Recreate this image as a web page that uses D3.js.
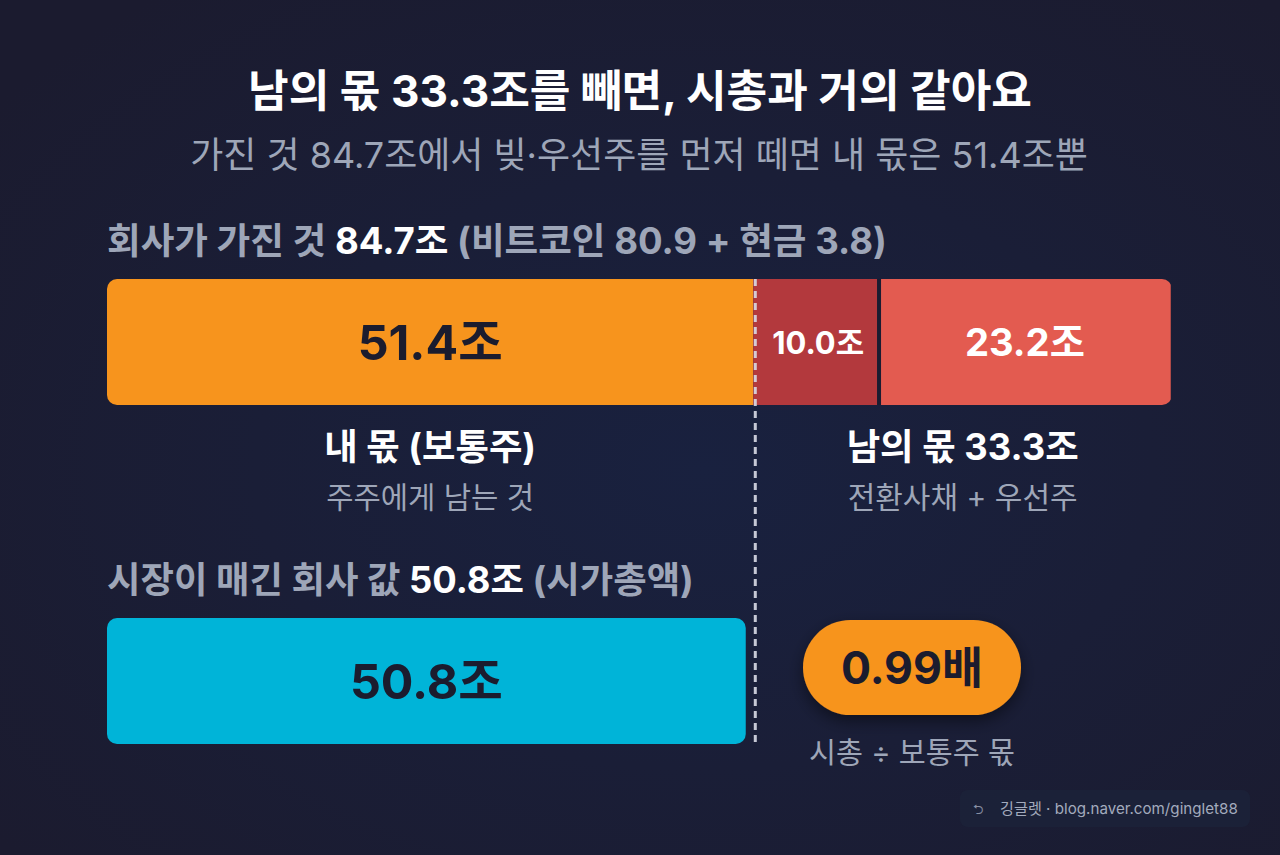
<!DOCTYPE html>
<html>
<head>
<meta charset="utf-8">
<script src="https://cdn.jsdelivr.net/npm/d3@7"></script>
<style>
  html, body { margin: 0; padding: 0; background: #1a1c31; }
  svg { display: block; font-family: Inter, "Noto Sans CJK KR", "Noto Sans", sans-serif; }
</style>
</head>
<body>
<svg id="chart" width="1280" height="855"></svg>
<script>
// values (조)
var parts = [
  { key: "common", value: 51.4, label: "51.4조", fill: "#f7941d", text: "#1b1c2e", tw: 145 },
  { key: "cb", value: 10.0, label: "10.0조", fill: "#b3393d", text: "#ffffff", tw: 92 },
  { key: "pref", value: 23.2, label: "23.2조", fill: "#e35b50", text: "#ffffff", tw: 120 }
];
var totalAssets = 84.7;
var marketCap = 50.8;
var ratio = "0.99배";

var title = "남의 몫 33.3조를 빼면, 시총과 거의 같아요";
var subtitle = "가진 것 84.7조에서 빚·우선주를 먼저 떼면 내 몫은 51.4조뿐";

var svg = d3.select("#chart");
var W = 1280, H = 855;

// fit a text element to a target width (reference font is wider than ours)
function fit(sel, w) {
  var n = sel.node(), len = n.getComputedTextLength();
  var fs = parseFloat(sel.attr("font-size"));
  sel.attr("font-size", fs * w / len);
  return sel;
}

// background glow
var defs = svg.append("defs");
var bg = defs.append("radialGradient").attr("id", "bg")
  .attr("cx", "55%").attr("cy", "55%").attr("r", "70%");
bg.append("stop").attr("offset", "0%").attr("stop-color", "#19213f");
bg.append("stop").attr("offset", "100%").attr("stop-color", "#1b1b2f");
var sh = defs.append("filter").attr("id", "shadow")
  .attr("x", "-30%").attr("y", "-40%").attr("width", "160%").attr("height", "190%");
sh.append("feDropShadow").attr("dx", 0).attr("dy", 6).attr("stdDeviation", 8)
  .attr("flood-color", "#000").attr("flood-opacity", 0.45);
defs.append("clipPath").attr("id", "clipTop")
  .append("rect").attr("x", 107).attr("y", 279).attr("width", 1065).attr("height", 126).attr("rx", 10);

svg.append("rect").attr("width", W).attr("height", H).attr("fill", "url(#bg)");

var x = d3.scaleLinear().domain([0, totalAssets]).range([107, 1172]);

// titles
fit(svg.append("text").attr("x", 640).attr("y", 107).attr("text-anchor", "middle")
  .attr("font-size", 40).attr("font-weight", 700).attr("fill", "#ffffff").text(title), 784);
fit(svg.append("text").attr("x", 639).attr("y", 168).attr("text-anchor", "middle")
  .attr("font-size", 32).attr("fill", "#9ea6b8").text(subtitle), 898);

// section label 1
var l1 = svg.append("text").attr("x", 107).attr("y", 254)
  .attr("font-size", 30).attr("font-weight", 700).attr("fill", "#9ea6b8");
l1.append("tspan").text("회사가 가진 것 ");
l1.append("tspan").attr("fill", "#ffffff").text("84.7조");
l1.append("tspan").text(" (비트코인 80.9 + 현금 3.8)");
fit(l1, 780);

// stacked bar
var stack = [];
var acc = 0;
parts.forEach(function (d) { stack.push({ d: d, x0: acc, x1: acc + d.value }); acc += d.value; });

var gTop = svg.append("g").attr("clip-path", "url(#clipTop)");
gTop.selectAll("rect").data(stack).enter().append("rect")
  .attr("x", function (s) { return x(s.x0); })
  .attr("width", function (s) { return x(s.x1) - x(s.x0); })
  .attr("y", 279).attr("height", 126)
  .attr("fill", function (s) { return s.d.fill; });
// separator between 10.0 and 23.2
gTop.append("rect").attr("x", x(stack[2].x0) - 2).attr("width", 4)
  .attr("y", 279).attr("height", 126).attr("fill", "#1a1c31");

svg.selectAll("text.seg").data(stack).enter().append("text").attr("class", "seg")
  .attr("x", function (s) { return (x(s.x0) + x(s.x1)) / 2 + (s.d.key === "cb" ? 2 : 0); })
  .attr("y", 343).attr("dy", "0.35em").attr("text-anchor", "middle")
  .attr("font-size", 40).attr("font-weight", 700)
  .attr("fill", function (s) { return s.d.text; })
  .text(function (s) { return s.d.label; })
  .each(function (s) { fit(d3.select(this), s.d.tw); });

// labels under bar
var cMine = (x(0) + x(parts[0].value)) / 2;
var cOther = (x(parts[0].value) + x(totalAssets)) / 2;
fit(svg.append("text").attr("x", cMine).attr("y", 460).attr("text-anchor", "middle")
  .attr("font-size", 33).attr("font-weight", 700).attr("fill", "#ffffff").text("내 몫 (보통주)"), 212);
fit(svg.append("text").attr("x", cMine).attr("y", 508).attr("text-anchor", "middle")
  .attr("font-size", 27).attr("fill", "#9ea6b8").text("주주에게 남는 것"), 208);
fit(svg.append("text").attr("x", cOther).attr("y", 460).attr("text-anchor", "middle")
  .attr("font-size", 33).attr("font-weight", 700).attr("fill", "#ffffff").text("남의 몫 33.3조"), 232);
fit(svg.append("text").attr("x", cOther).attr("y", 508).attr("text-anchor", "middle")
  .attr("font-size", 27).attr("fill", "#9ea6b8").text("전환사채 + 우선주"), 230);

// section label 2
var l2 = svg.append("text").attr("x", 107).attr("y", 593)
  .attr("font-size", 30).attr("font-weight", 700).attr("fill", "#9ea6b8");
l2.append("tspan").text("시장이 매긴 회사 값 ");
l2.append("tspan").attr("fill", "#ffffff").text("50.8조");
l2.append("tspan").text(" (시가총액)");
fit(l2, 587);

// market cap bar
svg.append("rect").attr("x", x(0)).attr("y", 618)
  .attr("width", x(marketCap) - x(0)).attr("height", 126).attr("rx", 10)
  .attr("fill", "#00b4d8");
fit(svg.append("text").attr("x", (x(0) + x(marketCap)) / 2).attr("y", 682).attr("dy", "0.35em")
  .attr("text-anchor", "middle").attr("font-size", 43).attr("font-weight", 700)
  .attr("fill", "#1b1c2e").text(marketCap + "조"), 153);

// dashed reference line at my share
svg.append("line").attr("x1", x(parts[0].value) + 2).attr("x2", x(parts[0].value) + 2)
  .attr("y1", 279).attr("y2", 745)
  .attr("stroke", "#d9dbe6").attr("stroke-width", 3).attr("stroke-dasharray", "7,5")
  .attr("opacity", 0.9);

// ratio pill
svg.append("rect").attr("x", 803).attr("y", 620).attr("width", 218).attr("height", 95)
  .attr("rx", 47.5).attr("fill", "#f7941d").attr("filter", "url(#shadow)");
fit(svg.append("text").attr("x", 912).attr("y", 668).attr("dy", "0.35em").attr("text-anchor", "middle")
  .attr("font-size", 42).attr("font-weight", 700).attr("fill", "#1b1c2e").text(ratio), 142);
fit(svg.append("text").attr("x", 912).attr("y", 763).attr("text-anchor", "middle")
  .attr("font-size", 27).attr("fill", "#9ea6b8").text("시총 ÷ 보통주 몫"), 206);

// watermark
var wm = svg.append("g");
wm.append("rect").attr("x", 960).attr("y", 790).attr("width", 290).attr("height", 37).attr("rx", 8)
  .attr("fill", "#1c2238").attr("opacity", 0.9);
wm.append("text").attr("x", 978).attr("y", 814).attr("text-anchor", "middle")
  .attr("font-size", 13).attr("fill", "#8890a4").text("⮌");
fit(wm.append("text").attr("x", 1000).attr("y", 814)
  .attr("font-size", 16).attr("fill", "#a3abbd").text("깅글렛 · blog.naver.com/ginglet88"), 238);
</script>
</body>
</html>
